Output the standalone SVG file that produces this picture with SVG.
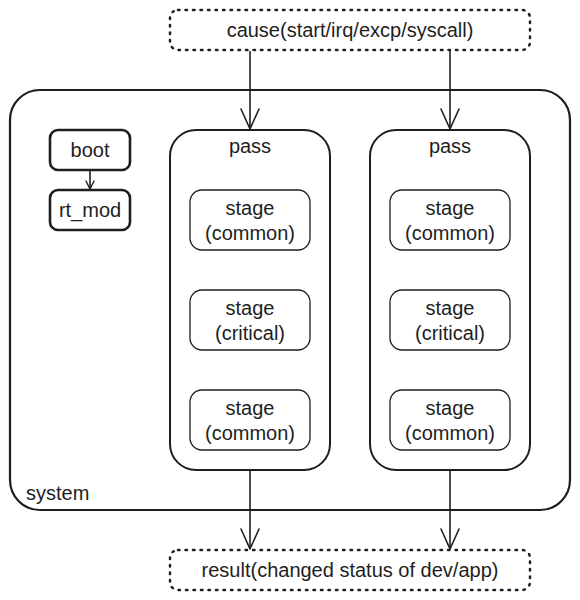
<svg xmlns="http://www.w3.org/2000/svg" width="580" height="600" viewBox="0 0 580 600">
  <defs>
    <marker id="arrow" markerUnits="userSpaceOnUse" markerWidth="24" markerHeight="24" refX="21" refY="11" orient="auto">
      <path d="M1,2 L21,11 L1,20" fill="none" stroke="#1e1e1e" stroke-width="1.6" stroke-linecap="round" stroke-linejoin="round"/>
    </marker>
    <marker id="arrowSmall" markerUnits="userSpaceOnUse" markerWidth="12" markerHeight="12" refX="9" refY="6" orient="auto">
      <path d="M1,2 L9,6 L1,10" fill="none" stroke="#1e1e1e" stroke-width="1.4" stroke-linecap="round" stroke-linejoin="round"/>
    </marker>
    <style>
      .txt { font-family: "Liberation Sans", Arial, Helvetica, sans-serif; font-size: 20px; fill: #1e1e1e; text-anchor: middle; }
      .lbl { font-family: "Liberation Sans", Arial, Helvetica, sans-serif; font-size: 20px; fill: #1e1e1e; }
      .dotted { fill: none; stroke: #1e1e1e; stroke-width: 2.5; stroke-dasharray: 1.5 6; stroke-linecap: round; }
      .system { fill: none; stroke: #1e1e1e; stroke-width: 2.2; }
      .pass { fill: none; stroke: #1e1e1e; stroke-width: 2; }
      .stage { fill: none; stroke: #1e1e1e; stroke-width: 1.3; }
      .small { fill: none; stroke: #1e1e1e; stroke-width: 2.6; }
      .conn { fill: none; stroke: #1e1e1e; stroke-width: 1.6; }
    </style>
  </defs>

  <g id="system">
    <rect class="system" x="10" y="90" width="560" height="420" rx="30" ry="30"/>
    <text class="lbl" x="26" y="500">system</text>
  </g>

  <g id="cause">
    <rect class="dotted" x="170" y="10" width="360" height="40" rx="8" ry="8"/>
    <text class="txt" x="350" y="37">cause(start/irq/excp/syscall)</text>
  </g>

  <g id="result">
    <rect class="dotted" x="170" y="550" width="360" height="40" rx="8" ry="8"/>
    <text class="txt" x="350" y="577">result(changed status of dev/app)</text>
  </g>

  <g id="boot">
    <rect class="small" x="50" y="130" width="80" height="40" rx="8" ry="8"/>
    <text class="txt" x="90" y="157">boot</text>
  </g>

  <g id="rt_mod">
    <rect class="small" x="50" y="190" width="80" height="40" rx="8" ry="8"/>
    <text class="txt" x="90" y="217">rt_mod</text>
  </g>

  <g id="pass1">
    <rect class="pass" x="170" y="130" width="160" height="340" rx="26" ry="26"/>
    <text class="txt" x="250" y="153">pass</text>
  </g>
  <g id="pass1-stage1">
    <rect class="stage" x="190" y="190" width="120" height="60" rx="12" ry="12"/>
    <text class="txt" x="250" y="215">stage</text>
    <text class="txt" x="250" y="240">(common)</text>
  </g>
  <g id="pass1-stage2">
    <rect class="stage" x="190" y="290" width="120" height="60" rx="12" ry="12"/>
    <text class="txt" x="250" y="315">stage</text>
    <text class="txt" x="250" y="340">(critical)</text>
  </g>
  <g id="pass1-stage3">
    <rect class="stage" x="190" y="390" width="120" height="60" rx="12" ry="12"/>
    <text class="txt" x="250" y="415">stage</text>
    <text class="txt" x="250" y="440">(common)</text>
  </g>

  <g id="pass2">
    <rect class="pass" x="370" y="130" width="160" height="340" rx="26" ry="26"/>
    <text class="txt" x="450" y="153">pass</text>
  </g>
  <g id="pass2-stage1">
    <rect class="stage" x="390" y="190" width="120" height="60" rx="12" ry="12"/>
    <text class="txt" x="450" y="215">stage</text>
    <text class="txt" x="450" y="240">(common)</text>
  </g>
  <g id="pass2-stage2">
    <rect class="stage" x="390" y="290" width="120" height="60" rx="12" ry="12"/>
    <text class="txt" x="450" y="315">stage</text>
    <text class="txt" x="450" y="340">(critical)</text>
  </g>
  <g id="pass2-stage3">
    <rect class="stage" x="390" y="390" width="120" height="60" rx="12" ry="12"/>
    <text class="txt" x="450" y="415">stage</text>
    <text class="txt" x="450" y="440">(common)</text>
  </g>

  <g id="connectors">
    <line class="conn" x1="90" y1="171" x2="90" y2="189" marker-end="url(#arrowSmall)"/>
    <line class="conn" x1="250" y1="51" x2="250" y2="129" marker-end="url(#arrow)"/>
    <line class="conn" x1="450" y1="51" x2="450" y2="129" marker-end="url(#arrow)"/>
    <line class="conn" x1="250" y1="471" x2="250" y2="549" marker-end="url(#arrow)"/>
    <line class="conn" x1="450" y1="471" x2="450" y2="549" marker-end="url(#arrow)"/>
  </g>
</svg>
